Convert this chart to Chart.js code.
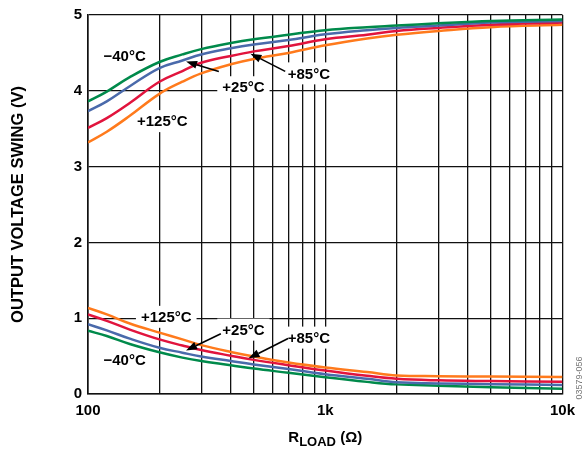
<!DOCTYPE html>
<html>
<head>
<meta charset="utf-8">
<script src="https://cdn.jsdelivr.net/npm/chart.js@4.4.1/dist/chart.umd.min.js"></script>
<style>
  html, body { margin: 0; padding: 0; background: #fff; }
  #wrap { width: 583px; height: 452px; }
</style>
</head>
<body>
<div id="wrap"><canvas id="chart" width="583" height="452"></canvas></div>
<script>
// load resistance (ohm) where the curves were read
const rLoad = [100, 120, 150, 200, 250, 300, 400, 500, 700, 1000, 1500, 2000, 3000, 5000, 10000];

// output high swing (V)
const highM40  = [3.86, 3.99, 4.18, 4.38, 4.48, 4.55, 4.63, 4.68, 4.74, 4.80, 4.84, 4.86, 4.89, 4.92, 4.94];
const highP25  = [3.73, 3.86, 4.06, 4.30, 4.40, 4.48, 4.56, 4.61, 4.67, 4.745, 4.80, 4.83, 4.86, 4.90, 4.92];
const highP85  = [3.51, 3.64, 3.84, 4.12, 4.26, 4.37, 4.46, 4.52, 4.59, 4.68, 4.74, 4.79, 4.83, 4.87, 4.90];
const highP125 = [3.32, 3.46, 3.67, 3.96, 4.12, 4.23, 4.35, 4.42, 4.50, 4.60, 4.69, 4.74, 4.79, 4.84, 4.87];

// output low swing (V)
const lowM40  = [0.835, 0.765, 0.66, 0.55, 0.48, 0.435, 0.38, 0.335, 0.28, 0.22, 0.16, 0.127, 0.11, 0.09, 0.07];
const lowP25  = [0.92, 0.84, 0.73, 0.61, 0.545, 0.495, 0.435, 0.39, 0.33, 0.26, 0.20, 0.155, 0.14, 0.13, 0.12];
const lowP85  = [1.05, 0.965, 0.85, 0.72, 0.64, 0.58, 0.505, 0.45, 0.38, 0.31, 0.24, 0.20, 0.18, 0.17, 0.16];
const lowP125 = [1.135, 1.05, 0.93, 0.81, 0.72, 0.645, 0.555, 0.495, 0.415, 0.35, 0.29, 0.245, 0.235, 0.23, 0.225];

const gridValues = [100, 200, 300, 400, 500, 600, 700, 800, 900,
                    1000, 2000, 3000, 4000, 5000, 6000, 7000, 8000, 9000, 10000];
const xTickText = { 100: '100', 1000: '1k', 10000: '10k' };

const tempNames = ['\u221240\u00b0C', '+25\u00b0C', '+85\u00b0C', '+125\u00b0C'];
const tempColors = ['#008a4b', '#4a6aab', '#e1143d', '#ff7a1c'];

// annotation spots in data units (ohm, volts)
const notes = [
  { t: 0, x: 142.7, y: 4.465 },
  { t: 1, x: 452, y: 4.047, from: [356, 4.256], to: [259, 4.386] },
  { t: 2, x: 853, y: 4.23, from: [678, 4.256], to: [484, 4.49] },
  { t: 3, x: 205.6, y: 3.60 },
  { t: 3, x: 213.7, y: 1.018 },
  { t: 1, x: 452, y: 0.849, from: [363, 0.796], to: [259, 0.574] },
  { t: 2, x: 853, y: 0.744, from: [697, 0.731], to: [475, 0.47] },
  { t: 0, x: 142.7, y: 0.457 }
];

const FONT = '"Liberation Sans", Arial, sans-serif';

function series(ys, color) {
  return {
    data: rLoad.map((r, i) => ({ x: r, y: ys[i] })),
    borderColor: color,
    borderWidth: 2.5,
    pointRadius: 0,
    fill: false,
    tension: 0.4
  };
}

const notePlugin = {
  id: 'notes',
  beforeDatasetsDraw(chart) {
    const ctx = chart.ctx, xs = chart.scales.x, ys = chart.scales.y;
    ctx.save();
    ctx.font = 'bold 15px ' + FONT;
    ctx.textAlign = 'center';
    ctx.textBaseline = 'middle';
    notes.forEach(n => {
      const px = xs.getPixelForValue(n.x), py = ys.getPixelForValue(n.y);
      const text = tempNames[n.t];
      const w = ctx.measureText(text).width + 10;
      ctx.fillStyle = '#fff';
      ctx.fillRect(px - w / 2, py - 11, w, 22);
      ctx.fillStyle = '#000';
      ctx.fillText(text, px, py + 1);
    });
    ctx.restore();
  },
  afterDatasetsDraw(chart) {
    const ctx = chart.ctx, xs = chart.scales.x, ys = chart.scales.y;
    ctx.save();
    ctx.strokeStyle = '#000';
    ctx.fillStyle = '#000';
    ctx.lineWidth = 1.6;
    notes.filter(n => n.from).forEach(n => {
      const x1 = xs.getPixelForValue(n.from[0]), y1 = ys.getPixelForValue(n.from[1]);
      const x2 = xs.getPixelForValue(n.to[0]), y2 = ys.getPixelForValue(n.to[1]);
      const a = Math.atan2(y2 - y1, x2 - x1);
      const len = 11, half = 4;
      const bx = x2 - len * Math.cos(a), by = y2 - len * Math.sin(a);
      ctx.beginPath();
      ctx.moveTo(x1, y1);
      ctx.lineTo(bx, by);
      ctx.stroke();
      ctx.beginPath();
      ctx.moveTo(x2, y2);
      ctx.lineTo(bx + half * Math.sin(a), by - half * Math.cos(a));
      ctx.lineTo(bx - half * Math.sin(a), by + half * Math.cos(a));
      ctx.closePath();
      ctx.fill();
    });
    ctx.restore();
  },
  afterDraw(chart) {
    const ctx = chart.ctx, area = chart.chartArea;
    ctx.save();
    ctx.fillStyle = '#000';
    // y title
    ctx.translate(18, (area.top + area.bottom) / 2);
    ctx.rotate(-Math.PI / 2);
    ctx.font = 'bold 16.5px ' + FONT;
    ctx.textAlign = 'center';
    ctx.textBaseline = 'middle';
    ctx.fillText('OUTPUT VOLTAGE SWING (V)', 0, 0);
    ctx.restore();

    // x title with subscript
    ctx.save();
    ctx.fillStyle = '#000';
    ctx.textBaseline = 'alphabetic';
    ctx.textAlign = 'left';
    const big = 'bold 15px ' + FONT, small = 'bold 13px ' + FONT;
    ctx.font = big;
    const wR = ctx.measureText('R').width, wP = ctx.measureText(' (\u03a9)').width;
    ctx.font = small;
    const wL = ctx.measureText('LOAD').width;
    let x0 = (area.left + area.right) / 2 - (wR + wL + wP) / 2;
    const base = 442;
    ctx.font = big;
    ctx.fillText('R', x0, base);
    ctx.font = small;
    ctx.fillText('LOAD', x0 + wR, base + 3.5);
    ctx.font = big;
    ctx.fillText(' (\u03a9)', x0 + wR + wL, base);
    ctx.restore();

    // figure code at right edge
    ctx.save();
    ctx.translate(580, 378);
    ctx.rotate(-Math.PI / 2);
    ctx.font = '9px ' + FONT;
    ctx.fillStyle = '#777';
    ctx.textAlign = 'center';
    ctx.textBaseline = 'middle';
    ctx.fillText('03579-056', 0, 0);
    ctx.restore();
  }
};

new Chart(document.getElementById('chart'), {
  type: 'line',
  data: {
    datasets: [
      series(highM40, tempColors[0]), series(highP25, tempColors[1]),
      series(highP85, tempColors[2]), series(highP125, tempColors[3]),
      series(lowP125, tempColors[3]), series(lowP85, tempColors[2]),
      series(lowP25, tempColors[1]), series(lowM40, tempColors[0])
    ]
  },
  options: {
    responsive: false,
    animation: false,
    devicePixelRatio: 1,
    layout: { padding: { left: 0, right: 16, top: 11, bottom: 0 } },
    plugins: { legend: { display: false }, tooltip: { enabled: false } },
    scales: {
      x: {
        type: 'logarithmic',
        min: 100,
        max: 10000,
        afterBuildTicks: s => { s.ticks = gridValues.map(v => ({ value: v })); },
        afterFit: s => { s.height = 58; },
        ticks: {
          autoSkip: false,
          maxRotation: 0,
          padding: 8,
          color: '#000',
          font: { family: FONT, size: 15, weight: 'bold' },
          callback: v => xTickText[v] || ''
        },
        grid: { color: '#111', lineWidth: 1.3, drawTicks: false },
        border: { color: '#111', width: 1.6 }
      },
      y: {
        min: 0,
        max: 5,
        afterFit: s => { s.width = 88; },
        ticks: {
          stepSize: 1,
          padding: 6,
          color: '#000',
          font: { family: FONT, size: 15, weight: 'bold' }
        },
        grid: { color: '#111', lineWidth: 1.3, drawTicks: false },
        border: { color: '#111', width: 1.6 }
      }
    }
  },
  plugins: [notePlugin]
});
</script>
</body>
</html>
